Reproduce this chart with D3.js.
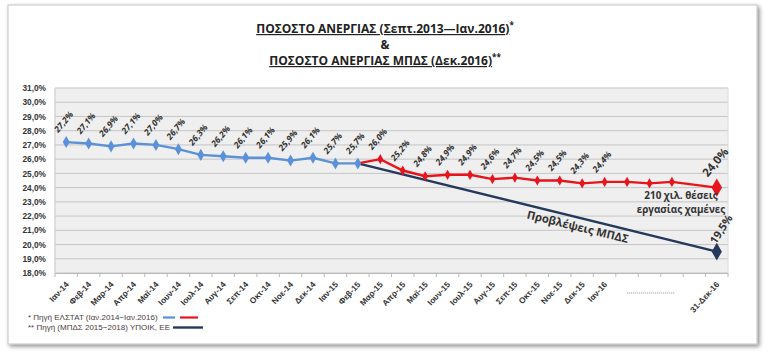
<!DOCTYPE html>
<html><head><meta charset="utf-8">
<script src="https://cdn.jsdelivr.net/npm/d3@7"></script>
<style>
html,body{margin:0;padding:0;background:#fff;}
svg{display:block;font-family:"Liberation Sans Narrow","Arial Narrow","Open Sans",sans-serif;}
</style></head>
<body>
<svg id="c" width="770" height="355"></svg>
<script>
const categories = ["Ιαν-14","Φεβ-14","Μαρ-14","Απρ-14","Μαϊ-14","Ιουν-14","Ιουλ-14","Αυγ-14","Σεπ-14","Οκτ-14","Νοε-14","Δεκ-14",
  "Ιαν-15","Φεβ-15","Μαρ-15","Απρ-15","Μαϊ-15","Ιουν-15","Ιουλ-15","Αυγ-15","Σεπ-15","Οκτ-15","Νοε-15","Δεκ-15","Ιαν-16",
  "","","","","31-Δεκ-16"];
const blueValues = [27.2,27.1,26.9,27.1,27.0,26.7,26.3,26.2,26.1,26.1,25.9,26.1,25.7,25.7];
const redValues = [null,null,null,null,null,null,null,null,null,null,null,null,null,
  25.7,26.0,25.2,24.8,24.9,24.9,24.6,24.7,24.5,24.5,24.3,24.4,24.4,24.3,24.4,null,24.0];
const redLabelled = [14,15,16,17,18,19,20,21,22,23,24];
const forecastValues = [null,null,null,null,null,null,null,null,null,null,null,null,null,
  25.7,null,null,null,null,null,null,null,null,null,null,null,null,null,null,null,19.5];
const yTicks = [18,19,20,21,22,23,24,25,26,27,28,29,30,31];
const titleLines = ["ΠΟΣΟΣΤΟ ΑΝΕΡΓΙΑΣ (Σεπτ.2013—Ιαν.2016)", "&", "ΠΟΣΟΣΤΟ ΑΝΕΡΓΙΑΣ ΜΠΔΣ (Δεκ.2016)"];
const titleMarks = ["*", "", "**"];
const legendLines = ["* Πηγή ΕΛΣΤΑΤ (Ιαν.2014−Ιαν.2016)", "** Πηγή (ΜΠΔΣ 2015−2018)  ΥΠΟΙΚ, ΕΕ"];
const annotationLines = ["210 χιλ. θέσεις", "εργασίας χαμένες"];
const forecastLabel = "Προβλέψεις ΜΠΔΣ";

const C = {blue:"#5b91d8", red:"#e8141b", navy:"#24395c", text:"#333"};
const svg = d3.select("#c");
const defs = svg.append("defs");
const f = defs.append("filter").attr("id","sh").attr("x","-5%").attr("y","-5%").attr("width","110%").attr("height","110%");
f.append("feDropShadow").attr("dx",2).attr("dy",2).attr("stdDeviation",2).attr("flood-color","#000").attr("flood-opacity",0.45);

svg.append("rect").attr("x",8).attr("y",5).attr("width",749).attr("height",339)
  .attr("fill","#fff").attr("stroke","#c4c4c4").attr("stroke-width",1).attr("filter","url(#sh)");

const L=55, R=728, T=88, B=273;
const x = d3.scaleBand().domain(d3.range(categories.length)).range([L,R]).padding(0);
const cx = i => x(i) + x.bandwidth()/2;
const y = d3.scaleLinear().domain([18,31]).range([B,T]);
const fmt = v => d3.format(".1f")(v).replace(".", ",") + "%";

// plot background
svg.append("rect").attr("x",L).attr("y",T).attr("width",R-L).attr("height",B-T).attr("fill","#efefef");
// gridlines
svg.append("g").selectAll("line").data(yTicks).join("line")
  .attr("x1",L).attr("x2",R).attr("y1",d=>y(d)).attr("y2",d=>y(d))
  .attr("stroke","#c5c5c5").attr("stroke-width",1);
svg.append("line").attr("x1",L).attr("x2",L).attr("y1",T).attr("y2",B).attr("stroke","#c5c5c5");
svg.append("line").attr("x1",R).attr("x2",R).attr("y1",T).attr("y2",B).attr("stroke","#dadada");

// y axis labels
const yAxis = d3.axisLeft(y).tickValues(yTicks).tickFormat(fmt).tickSize(0).tickPadding(9);
const gy = svg.append("g").attr("transform",`translate(${L},0)`).call(yAxis);
gy.select(".domain").remove();
gy.selectAll("text").attr("font-size",8.3).attr("font-weight","bold").attr("fill",C.text)
  .attr("font-family","'Liberation Sans Narrow','Arial Narrow',sans-serif");

// x axis
const xAxis = d3.axisBottom(x).tickSize(0).tickFormat(i=>categories[i]);
const gx = svg.append("g").attr("transform",`translate(0,${B})`).call(xAxis);
gx.select(".domain").attr("stroke","#b8b8b8");
gx.selectAll(".tick text").attr("font-size",8.3).attr("font-weight","bold").attr("fill",C.text)
  .attr("text-anchor","end").attr("transform","translate(1,10) rotate(-47)").attr("dy","0.35em").attr("y",0);
// tick marks between categories
svg.append("g").selectAll("line").data(d3.range(categories.length+1)).join("line")
  .attr("x1",k=>L+k*x.bandwidth()).attr("x2",k=>L+k*x.bandwidth())
  .attr("y1",B).attr("y2",B+4).attr("stroke","#b8b8b8");
// dotted placeholder under empty categories
svg.append("line").attr("x1",cx(25)).attr("x2",cx(27)+3).attr("y1",B+20).attr("y2",B+20)
  .attr("stroke","#8a8a8a").attr("stroke-width",0.8).attr("stroke-dasharray","1.2,0.8");

const diamond = (s) => d3.symbol().type(d3.symbolDiamond).size(s);

// forecast line
const fc = forecastValues.map((v,i)=>({i,v})).filter(d=>d.v!==null);
svg.append("path").datum(fc).attr("fill","none").attr("stroke",C.navy).attr("stroke-width",2.4)
  .attr("d", d3.line().x(d=>cx(d.i)).y(d=>y(d.v)));
svg.append("path").attr("d",diamond(90)()).attr("fill",C.navy)
  .attr("transform",`translate(${cx(fc[1].i)},${y(fc[1].v)})`);

// red line
const rd = redValues.map((v,i)=>({i,v})).filter(d=>d.v!==null);
svg.append("path").datum(rd).attr("fill","none").attr("stroke",C.red).attr("stroke-width",2.4)
  .attr("d", d3.line().x(d=>cx(d.i)).y(d=>y(d.v)));
svg.append("g").selectAll("path").data(rd.slice(1,-1)).join("path")
  .attr("d",diamond(30)()).attr("fill",C.red)
  .attr("transform",d=>`translate(${cx(d.i)},${y(d.v)})`);
const rLast = rd[rd.length-1];
svg.append("path").attr("d",diamond(95)()).attr("fill",C.red)
  .attr("transform",`translate(${cx(rLast.i)},${y(rLast.v)})`);

// blue line
const bl = blueValues.map((v,i)=>({i,v}));
svg.append("path").datum(bl).attr("fill","none").attr("stroke",C.blue).attr("stroke-width",2.4)
  .attr("d", d3.line().x(d=>cx(d.i)).y(d=>y(d.v)));
svg.append("g").selectAll("path").data(bl).join("path")
  .attr("d",diamond(42)()).attr("fill",C.blue)
  .attr("transform",d=>`translate(${cx(d.i)},${y(d.v)})`);

// data labels
const lbl = bl.concat(redLabelled.map(i=>({i,v:redValues[i]})));
svg.append("g").selectAll("text").data(lbl).join("text")
  .attr("transform",d=>`translate(${cx(d.i)-8},${y(d.v)-9}) rotate(-50)`)
  .attr("font-size",8.6).attr("font-weight","bold").attr("font-style","italic").attr("fill",C.text)
  .text(d=>fmt(d.v));
svg.append("text").attr("transform",`translate(${cx(rLast.i)-9},${y(rLast.v)-10}) rotate(-50)`)
  .attr("font-size",11.5).attr("font-weight","bold").attr("fill",C.text).text(fmt(rLast.v));
svg.append("text").attr("transform",`translate(${cx(fc[1].i)-1},${y(fc[1].v)-7}) rotate(-57)`)
  .attr("font-size",11).attr("font-weight","bold").attr("fill",C.text).text(fmt(fc[1].v));

// annotation
svg.append("g").selectAll("text").data(annotationLines).join("text")
  .attr("x",681).attr("y",(d,k)=>199+k*14).attr("text-anchor","middle")
  .attr("font-size",9.9).attr("font-weight","bold").attr("fill",C.text).text(d=>d);

// forecast label along line
const ang = Math.atan2(y(fc[1].v)-y(fc[0].v), cx(fc[1].i)-cx(fc[0].i))*180/Math.PI;
const px = 580, py = y(fc[0].v) + (px-cx(fc[0].i))*(y(fc[1].v)-y(fc[0].v))/(cx(fc[1].i)-cx(fc[0].i));
svg.append("text").attr("transform",`translate(${px},${py}) rotate(${ang}) translate(0,13)`)
  .attr("text-anchor","middle").attr("font-size",11.2).attr("font-weight","bold").attr("fill",C.text)
  .text(forecastLabel);

// title
const tg = svg.append("g");
titleLines.forEach((t,k)=>{
  const yy = [33,49,65][k];
  const tx = tg.append("text").attr("x",385).attr("y",yy).attr("text-anchor","middle")
    .attr("font-size",12).attr("font-weight","bold").attr("fill","#222");
  tx.append("tspan").attr("text-decoration", k===1?"none":"underline").text(t);
  if (titleMarks[k]) tx.append("tspan").attr("dy",-5).attr("font-size",8).text(titleMarks[k]);
});

// legend
svg.append("g").selectAll("text").data(legendLines).join("text")
  .attr("x",28).attr("y",(d,k)=>320+k*10).attr("font-size",8).attr("fill","#4a3c3c")
  .attr("font-family","'Liberation Sans Narrow','Arial Narrow',sans-serif").text(d=>d);
svg.append("line").attr("x1",163).attr("x2",175).attr("y1",317.5).attr("y2",317.5).attr("stroke",C.blue).attr("stroke-width",2.2);
svg.append("line").attr("x1",180).attr("x2",198).attr("y1",317.5).attr("y2",317.5).attr("stroke",C.red).attr("stroke-width",2.2);
svg.append("line").attr("x1",173).attr("x2",203).attr("y1",327.5).attr("y2",327.5).attr("stroke",C.navy).attr("stroke-width",2.4);
</script>
</body></html>
